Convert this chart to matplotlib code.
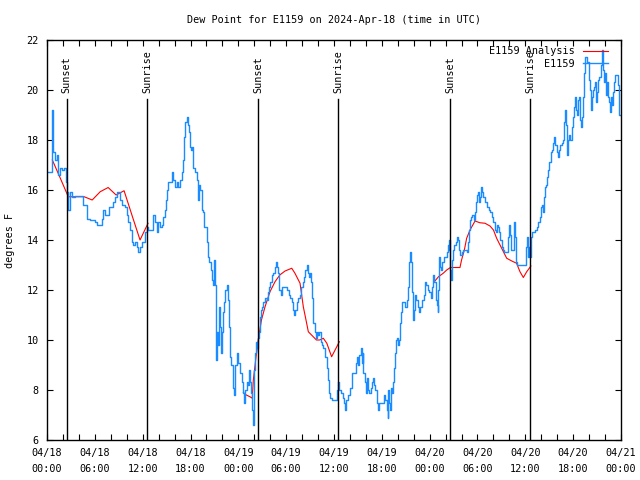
import matplotlib
matplotlib.use("Agg")
import matplotlib.pyplot as plt

plt.rcParams['font.family'] = ['DejaVu Sans Mono']

title = "Dew Point for E1159 on 2024-Apr-18 (time in UTC)"
ylabel = "degrees F"
xtick_hours = [0, 6, 12, 18, 24, 30, 36, 42, 48, 54, 60, 66, 72]
xtick_labels = ["04/18\n00:00", "04/18\n06:00", "04/18\n12:00", "04/18\n18:00",
                "04/19\n00:00", "04/19\n06:00", "04/19\n12:00", "04/19\n18:00",
                "04/20\n00:00", "04/20\n06:00", "04/20\n12:00", "04/20\n18:00",
                "04/21\n00:00"]

sunset_hours = [2.45, 26.47, 50.55]
sunrise_hours = [12.6, 36.55, 60.6]

# observed (hours since 04/18 00:00 UTC, deg F)
obs_t = [0.13, 0.63, 0.75, 1.0, 1.2, 1.38, 1.6, 1.88, 2.13, 2.35, 2.47, 2.63, 2.89, 3.14,
         3.5, 4.14, 4.52, 4.77, 5.02, 5.39, 5.65, 6.02, 6.27, 6.65, 6.9, 7.02, 7.28, 7.78,
         8.15, 8.28, 8.53, 8.78, 9.0, 9.16, 9.41, 9.78, 10.04, 10.16, 10.41, 10.66, 10.79,
         11.04, 11.29, 11.42, 11.67, 11.92, 12.29, 12.54, 12.67, 12.92, 13.17, 13.3, 13.55,
         13.8, 13.92, 14.17, 14.43, 14.55, 14.8, 14.93, 15.05, 15.18, 15.43, 15.68, 15.81,
         16.06, 16.31, 16.43, 16.68, 16.93, 17.06, 17.2, 17.31, 17.56, 17.69, 17.81, 17.94,
         18.1, 18.2, 18.31, 18.57, 18.82, 18.94, 19.05, 19.19, 19.44, 19.57, 19.69, 20.07,
         20.2, 20.32, 20.57, 20.7, 20.82, 20.9, 21.0, 21.1, 21.2, 21.33, 21.45, 21.58, 21.7,
         21.83, 21.95, 22.08, 22.2, 22.33, 22.58, 22.7, 22.83,
         22.96, 23.08, 23.33, 23.46, 23.58, 23.83, 23.96, 24.21, 24.46, 24.59, 24.71, 24.84,
         25.09, 25.2, 25.34, 25.45, 25.59, 25.72, 25.84, 25.92, 25.97, 26.09, 26.22, 26.35,
         26.47, 26.6, 26.72, 26.84, 26.97, 27.1, 27.35, 27.55, 27.72, 27.85, 27.97, 28.22,
         28.35, 28.6, 28.73, 28.85, 28.97, 29.1, 29.35, 29.45, 29.6, 30.0, 30.11, 30.36,
         30.5, 30.73, 30.86, 30.98, 31.1, 31.36, 31.49, 31.75, 31.86, 32.11, 32.24, 32.36,
         32.61, 32.75, 32.87, 33.0, 33.12, 33.24, 33.37, 33.62, 33.75, 33.87, 34.0, 34.12,
         34.37, 34.5, 34.62, 34.87, 35.12, 35.25, 35.37, 35.5, 35.75, 36.13, 36.38, 36.5,
         36.6, 36.88, 37.13, 37.26, 37.38, 37.5, 37.76, 38.01, 38.26, 38.76, 38.9, 39.0,
         39.14, 39.39, 39.51, 39.6, 39.64, 39.89, 40.02, 40.15, 40.27, 40.4, 40.6, 40.75,
         40.89, 41.0, 41.14, 41.4, 41.5, 41.65, 42.15, 42.27, 42.45, 42.65, 42.72, 42.8,
         42.9, 43.03, 43.15, 43.27, 43.4, 43.53, 43.65, 43.78, 43.9, 44.03, 44.15, 44.28,
         44.41, 44.53, 44.9, 45.16, 45.28, 45.41, 45.5, 45.6, 45.79, 45.91, 46.0, 46.16,
         46.3, 46.54, 46.66, 46.8, 47.04, 47.25, 47.42, 47.6, 47.79, 47.9, 48.17, 48.3,
         48.42, 48.55, 48.8, 48.92, 49.05, 49.1, 49.17, 49.3, 49.42, 49.55, 49.8, 50.18,
         50.3, 50.38, 50.43, 50.5, 50.58, 50.68, 50.8, 50.93, 51.1, 51.31, 51.43, 51.6,
         51.68, 51.85, 52.06, 52.2, 52.7, 52.81, 52.94, 53.06, 53.19, 53.35, 53.5, 53.69,
         53.81, 53.94, 54.07, 54.15, 54.3, 54.38, 54.44, 54.56, 54.7, 54.94, 55.19, 55.4,
         55.57, 55.82, 56.0, 56.2, 56.32, 56.45, 56.6, 56.72, 56.82, 57.08, 57.2, 57.33,
         57.83, 57.95, 58.07, 58.2, 58.58, 58.7, 58.83, 58.96, 60.09, 60.21, 60.34, 60.46,
         60.6, 60.71, 60.84, 61.22, 61.47, 61.59, 61.8, 61.97, 62.09, 62.2, 62.34, 62.47,
         62.6, 62.72, 62.84, 62.97, 63.22, 63.35, 63.47, 63.6, 63.72, 63.97, 64.1, 64.22,
         64.35, 64.6, 64.75, 64.85, 64.98, 65.1, 65.23, 65.35, 65.5, 65.6, 65.86, 65.98,
         66.11, 66.23, 66.35, 66.5, 66.61, 66.73, 66.86, 66.98, 67.1, 67.24, 67.36, 67.49,
         67.74, 67.99, 68.11, 68.24, 68.37, 68.5, 68.62, 68.75, 68.87, 69.0, 69.12, 69.3,
         69.49, 69.62, 69.74, 69.87, 70.0, 70.12, 70.25, 70.37, 70.5, 70.62, 70.75, 70.87,
         71.0, 71.12, 71.25, 71.62, 71.7, 71.75, 72.0]
obs_v = [16.7, 19.2, 17.5, 17.2, 17.4, 16.6, 16.9, 16.8, 16.9, 16.3, 15.9, 15.2, 15.9, 15.7,
         15.75, 15.75, 15.4, 15.4, 14.85, 14.8, 14.8, 14.7, 14.6, 14.6, 14.85, 15.2, 15.0, 15.3,
         15.3, 15.5, 15.7, 15.9, 15.9, 15.6, 15.4, 15.3, 15.0, 14.7, 14.4, 13.9, 13.8,
         13.9, 13.7, 13.5, 13.7, 13.9, 14.3, 14.5, 14.4, 14.4, 14.4, 15.0, 14.7,
         14.3, 14.7, 14.5, 14.6, 14.9, 15.2, 15.6, 16.0, 16.3, 16.3, 16.7, 16.4,
         16.1, 16.3, 16.1, 16.4, 16.7, 17.2, 18.1, 18.7, 18.9, 18.6, 18.3, 17.7,
         17.6, 17.7, 16.9, 16.7, 16.4, 15.6, 16.2, 16.0, 15.2, 15.1, 14.5, 13.9,
         13.3, 13.1, 12.8, 12.4, 12.2, 13.1, 13.2, 12.2, 9.2, 10.3, 9.8, 11.3, 10.5,
         9.5, 10.3, 11.1, 11.5, 12.0, 12.2, 11.6, 10.5,
         9.3, 9.0, 8.1, 7.8, 9.0, 9.5, 9.1, 8.7, 8.3, 7.9, 7.5, 8.0,
         8.3, 8.2, 8.8, 8.3, 7.9, 7.2, 6.6, 8.0, 8.8, 9.5, 9.9, 9.7,
         10.1, 10.3, 10.9, 11.2, 11.3, 11.5, 11.7, 11.6, 11.9, 12.1, 12.3, 12.6,
         12.7, 12.9, 13.1, 12.9, 12.7, 12.0, 11.8, 12.1, 12.1, 12.1, 12.0, 11.8,
         11.7, 11.5, 11.2, 11.0, 11.2, 11.5, 11.7, 11.8, 12.1, 12.3, 12.5, 12.8,
         13.0, 12.7, 12.5, 12.7, 12.3, 11.7, 10.7, 10.3, 10.1, 10.3, 10.2, 10.3,
         9.9, 9.8, 9.7, 9.3, 8.9, 8.4, 7.9, 7.7, 7.6, 7.6, 8.0, 8.3,
         8.0, 7.9, 7.7, 7.5, 7.2, 7.6, 7.8, 8.1, 8.7, 9.1, 9.3, 9.0,
         9.4, 9.7, 9.1, 9.5, 8.7, 8.3, 7.9, 8.5, 8.0, 7.9, 8.1, 8.3,
         8.5, 8.2, 8.0, 7.5, 7.2, 7.5, 7.5, 7.8, 7.6, 7.2, 6.9, 8.0,
         7.5, 7.2, 8.1, 7.9, 8.3, 8.9, 9.5, 10.0, 10.1, 9.8, 10.0, 10.7,
         11.1, 11.5, 11.3, 11.6, 12.1, 13.1, 13.5, 13.1, 11.9, 10.8, 11.2, 11.8,
         11.6, 11.3, 11.1, 11.3, 11.6, 11.8, 12.3, 12.2, 12.0, 11.9, 11.7, 12.1,
         12.6, 12.3, 11.6, 11.4, 11.1, 12.0, 13.3, 12.9, 12.8, 13.1, 13.3, 13.5,
         13.8, 13.6, 14.0, 13.5, 12.8, 12.4, 13.2, 13.6, 13.8, 13.9, 14.1, 14.0,
         13.6, 13.4, 13.5, 13.6, 13.5, 13.9, 14.4, 14.8, 14.9, 15.0, 14.8, 15.1,
         15.5, 15.8, 15.9, 15.5, 15.7, 15.9, 16.1, 15.9, 15.7, 15.5, 15.3, 15.2,
         15.1, 14.9, 14.7, 14.4, 14.3, 14.6, 14.5, 14.3, 14.0, 13.7, 13.6, 13.5,
         14.1, 14.6, 14.2, 13.6, 14.7, 14.1, 13.1, 13.0, 13.7, 14.1, 13.3, 13.7,
         13.3, 14.1, 14.3, 14.4, 14.5, 14.7, 14.9, 15.3, 15.4, 15.1, 15.7, 16.1,
         16.2, 16.5, 16.8, 17.1, 17.5, 17.6, 17.9, 18.1, 17.8, 17.5, 17.3, 17.6,
         17.8, 17.9, 18.0, 18.7, 19.2, 18.6, 17.4, 18.0, 18.2, 18.0, 18.5, 18.9,
         19.3, 19.7, 19.2, 19.0, 19.6, 19.7, 18.8, 18.5, 18.9, 19.7, 20.7, 21.3,
         21.1, 20.4, 20.0, 19.2, 19.7, 20.0, 20.1, 20.3, 19.5, 19.9, 20.4, 20.5,
         21.0, 21.6, 20.8, 20.3, 20.7, 19.8, 20.3, 19.7, 19.5, 19.1, 19.7, 19.4,
         19.9, 20.3, 20.6, 20.2, 19.9, 19.0, 19.0]

# analysis (three night-time pieces)
ana1_t = [0.67, 1.67, 2.67, 3.67, 4.67, 5.67, 6.67, 7.67, 8.67, 9.67, 10.67, 11.67, 12.67]
ana1_v = [17.2, 16.47, 15.73, 15.73, 15.73, 15.6, 15.93, 16.1, 15.8, 15.97, 14.98, 14.0, 14.67]
ana2_t = [24.63, 25.0, 25.46, 25.75, 25.88, 26.22, 26.5, 26.9, 27.35, 27.97, 28.6, 29.2, 29.86,
          30.7, 31.1, 31.74, 32.15, 32.57, 32.78, 33.4, 33.8, 34.2, 34.66, 35.1, 35.7, 36.67]
ana2_v = [7.9, 7.8, 7.73, 7.67, 8.4, 9.33, 10.0, 10.8, 11.33, 11.93, 12.33, 12.6, 12.76,
          12.87, 12.67, 12.27, 11.33, 10.67, 10.33, 10.13, 10.0, 10.0, 10.07, 9.87, 9.33, 9.93]
ana3_t = [48.58, 49.1, 49.7, 50.14, 50.6, 51.8, 52.0, 52.35, 52.64, 53.06, 53.69, 54.3, 54.94,
          55.57, 56.0, 56.4, 57.03, 57.66, 58.3, 58.9, 59.33, 59.75, 60.17, 60.7]
ana3_v = [12.33, 12.53, 12.67, 12.8, 12.9, 12.9, 13.2, 13.6, 14.07, 14.4, 14.76, 14.69, 14.67,
          14.56, 14.4, 14.07, 13.67, 13.27, 13.16, 13.07, 12.73, 12.5, 12.73, 12.96]

BLUE = '#1a8cff'
RED = '#ff0000'
FS = 7.3

fig = plt.figure(figsize=(6.4, 4.8), dpi=100)
ax = fig.add_axes([47/640, 40/480, 574/640, 400/480])

ax.plot(ana1_t, ana1_v, color=RED, lw=0.8, label='E1159 Analysis')
ax.plot(ana2_t, ana2_v, color=RED, lw=0.8)
ax.plot(ana3_t, ana3_v, color=RED, lw=0.8)
ax.plot(obs_t, obs_v, color=BLUE, lw=1.0, drawstyle='steps-post', label='E1159')

for h in sunset_hours:
    ax.plot([h, h], [6, 19.64], color='black', lw=1.0)
    ax.text(h, 19.88, 'Sunset', rotation=90, ha='center', va='bottom', fontsize=FS)
for h in sunrise_hours:
    ax.plot([h, h], [6, 19.64], color='black', lw=1.0)
    ax.text(h, 19.88, 'Sunrise', rotation=90, ha='center', va='bottom', fontsize=FS)

ax.set_xlim(0, 72)
ax.set_ylim(6, 22)
ax.set_xticks(xtick_hours)
ax.set_xticklabels(xtick_labels, fontsize=FS, linespacing=1.75)
ax.set_xticks(range(0, 73, 2), minor=True)
ax.set_yticks(range(6, 23, 2))
ax.tick_params(axis='both', which='both', direction='in', top=True, right=True,
               length=4, width=0.8, labelsize=FS)
ax.tick_params(axis='x', which='major', pad=6)
ax.tick_params(axis='y', which='major', pad=6)
for s in ax.spines.values():
    s.set_linewidth(1.0)

ax.set_title(title, fontsize=FS, pad=12)
ax.set_ylabel(ylabel, fontsize=FS, labelpad=8)

leg = ax.legend(loc='upper right', bbox_to_anchor=(1 - 8/574, 1 - 1/400),
                frameon=False, markerfirst=False, alignment='right',
                fontsize=FS, handlelength=2.5, handletextpad=0.8, labelspacing=0.25,
                borderaxespad=0.3, borderpad=0.2)

fig.savefig('out.png', dpi=100)
